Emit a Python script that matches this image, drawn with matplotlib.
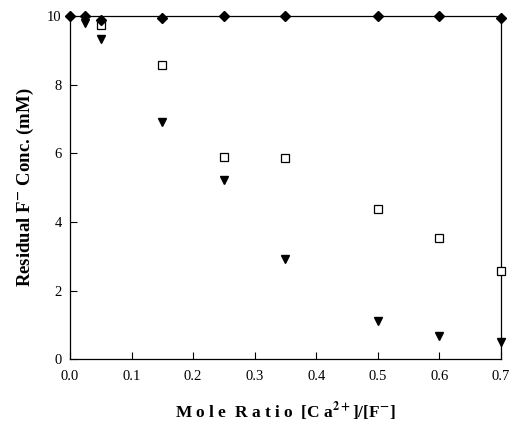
import matplotlib
matplotlib.use("Agg")
import matplotlib.pyplot as plt

plt.rcParams['font.family'] = ['Liberation Serif', 'DejaVu Serif']
plt.rcParams['mathtext.fontset'] = 'stix'

# data
ratio = [0.0, 0.025, 0.05, 0.15, 0.25, 0.35, 0.5, 0.6, 0.7]
diamond = [10.0, 10.0, 9.9, 9.95, 10.0, 10.0, 10.0, 10.0, 9.95]
sq_ratio = [0.05, 0.15, 0.25, 0.35, 0.5, 0.6, 0.7]
square = [9.75, 8.57, 5.9, 5.87, 4.38, 3.52, 2.57]
tri_ratio = [0.025, 0.05, 0.15, 0.25, 0.35, 0.5, 0.6, 0.7]
triangle = [9.8, 9.32, 6.9, 5.22, 2.92, 1.1, 0.67, 0.5]

xticks = [0.0, 0.1, 0.2, 0.3, 0.4, 0.5, 0.6, 0.7]
yticks = [0, 2, 4, 6, 8, 10]

fig = plt.figure(figsize=(5.11, 4.24), dpi=100)
ax = fig.add_axes([0.137, 0.153, 0.843, 0.809])

ax.plot(sq_ratio, square, "s", mfc="white", mec="black", mew=0.9, ms=5.5, ls="none", zorder=3, clip_on=False)
ax.plot(tri_ratio, triangle, "v", color="black", ms=5.5, ls="none", zorder=4, clip_on=False)
ax.plot(ratio, diamond, "D", color="black", ms=5, ls="none", zorder=5, clip_on=False)

ax.set_xlim(0, 0.7)
ax.set_ylim(0, 10)
ax.set_xticks(xticks)
ax.set_xticklabels([f"{v:.1f}" for v in xticks])
ax.set_yticks(yticks)
ax.tick_params(direction="in", length=5, width=0.8, labelsize=10.5, pad=8)
ax.tick_params(axis="y", pad=6)
for sp in ax.spines.values():
    sp.set_linewidth(0.9)

ax.set_xlabel(r"M o l e  R a t i o  [C a$^{\mathbf{2+}}$]/[F$^{\mathbf{-}}$]", fontsize=12.5, fontweight="bold", labelpad=12)
ax.set_ylabel(r"Residual F$^{\mathbf{-}}$ Conc. (mM)", fontsize=13.5, fontweight="bold", labelpad=8)

fig.savefig("out.png", dpi=100)
